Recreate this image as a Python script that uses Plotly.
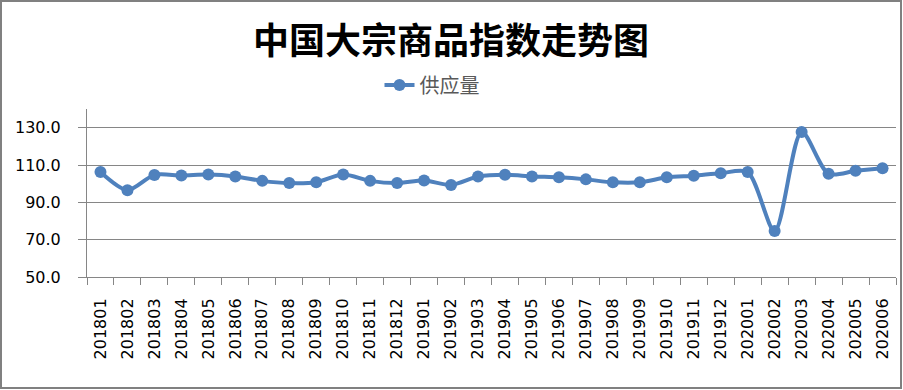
import plotly.graph_objects as go

categories = ["201801", "201802", "201803", "201804", "201805", "201806", "201807", "201808",
              "201809", "201810", "201811", "201812", "201901", "201902", "201903", "201904",
              "201905", "201906", "201907", "201908", "201909", "201910", "201911", "201912",
              "202001", "202002", "202003", "202004", "202005", "202006"]
supply = [106.2, 96.5, 104.7, 104.4, 104.9, 103.9, 101.5, 100.3, 100.8, 104.9, 101.5, 100.3,
          101.7, 99.3, 103.8, 104.8, 103.9, 103.4, 102.3, 100.7, 100.7, 103.4, 104.3, 105.6,
          106.2, 74.6, 127.7, 105.3, 106.9, 108.3]
series_name = "供应量"
title_text = "中国大宗商品指数走势图"
y_ticks = [50, 70, 90, 110, 130]

W, H = 903, 390
ml, mr, mt, mb = 87, 7, 109, 113
pw, ph = W - ml - mr, H - mt - mb

fig = go.Figure()
fig.add_trace(go.Scatter(
    x=categories, y=supply, name=series_name, mode="lines+markers",
    line=dict(color="#4F81BD", width=4, shape="spline", smoothing=0.8),
    marker=dict(color="#4F81BD", size=12),
))

grid = "#868686"
fig.update_layout(
    width=W, height=H,
    margin=dict(l=ml, r=mr, t=mt, b=mb),
    paper_bgcolor="white", plot_bgcolor="white",
    title=dict(text=title_text, x=451 / W, xanchor="center", xref="container",
               y=1 - 41 / H, yanchor="middle",
               font=dict(family="Noto Sans CJK SC", size=36, color="black", weight="bold")),
    showlegend=True,
    legend=dict(orientation="h", x=0.5 + (432 - (ml + pw / 2)) / pw, xanchor="center",
                y=1 + (mt - 85) / ph, yanchor="middle",
                font=dict(family="Noto Sans CJK SC", size=20, color="#595959"),
                bgcolor="rgba(0,0,0,0)"),
    xaxis=dict(type="category", tickson="boundaries", ticks="outside", ticklen=7,
               tickcolor=grid, showline=True, linecolor=grid, linewidth=1,
               showgrid=False, tickangle=-90, ticklabelstandoff=14,
               tickfont=dict(family="DejaVu Sans", size=16, color="black"),
               range=[-0.5, len(categories) - 0.5]),
    yaxis=dict(range=[50, 140], tickvals=y_ticks, ticktext=[f"{v:.1f}" for v in y_ticks],
               ticks="outside", ticklen=8, tickcolor=grid, showline=True, linecolor=grid,
               showgrid=True, gridcolor=grid, gridwidth=1, zeroline=False,
               ticklabelstandoff=14,
               tickfont=dict(family="DejaVu Sans", size=16, color="black")),
    shapes=[dict(type="rect", xref="paper", yref="paper",
                 x0=(1 - ml) / pw, x1=(W - 2 - ml) / pw,
                 y0=-(H - 2 - (H - mb)) / ph, y1=(H - mb - 1) / ph,
                 line=dict(color="#808080", width=2), fillcolor="rgba(0,0,0,0)", layer="above")],
)

fig.write_html("out.html", config={"displayModeBar": False},
               post_script="document.body.style.margin='0';document.body.style.overflow='hidden';")
